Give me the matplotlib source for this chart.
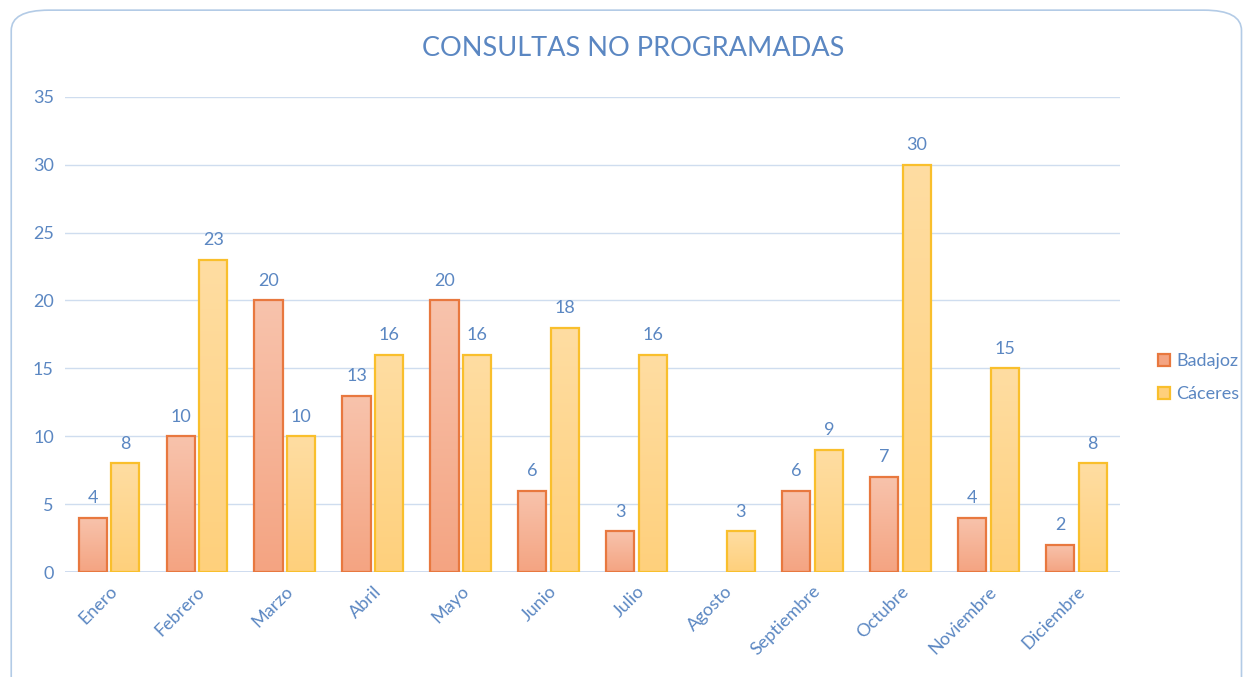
import numpy as np
import matplotlib.pyplot as plt
from matplotlib.patches import FancyBboxPatch
from matplotlib.colors import LinearSegmentedColormap

months = ["Enero", "Febrero", "Marzo", "Abril", "Mayo", "Junio", "Julio",
          "Agosto", "Septiembre", "Octubre", "Noviembre", "Diciembre"]
badajoz = [4, 10, 20, 13, 20, 6, 3, 0, 6, 7, 4, 2]
caceres = [8, 23, 10, 16, 16, 18, 16, 3, 9, 30, 15, 8]
yticks = [0, 5, 10, 15, 20, 25, 30, 35]

txt = "#5B87C2"
plt.rcParams["font.family"] = ["Lato", "DejaVu Sans"]

fig = plt.figure(figsize=(12.49, 6.77), dpi=100)
ax = fig.add_axes([0.052, 0.155, 0.845, 0.702])

# rounded chart border
fig.patches.append(FancyBboxPatch((0.009, -0.05), 0.985, 1.035,
                                  boxstyle="round,pad=0,rounding_size=0.03",
                                  transform=fig.transFigure, fill=False,
                                  edgecolor="#B3CBE6", linewidth=1.2))

x = np.arange(len(months))
w = 0.32
off = 0.185


def gradient_bars(xs, vals, top, bottom, edge, label):
    vals = [v if v else np.nan for v in vals]
    bars = ax.bar(xs, vals, w, facecolor="none", edgecolor=edge,
                  linewidth=1.6, label=label, zorder=3)
    cmap = LinearSegmentedColormap.from_list("g", [bottom, top])
    grad = np.linspace(0, 1, 100).reshape(-1, 1)
    for b, v in zip(bars, vals):
        if np.isnan(v):
            continue
        x0 = b.get_x()
        im = ax.imshow(grad, extent=[x0, x0 + w, 0, v], origin="lower",
                       aspect="auto", cmap=cmap, zorder=2)
        im.set_clip_path(b)
        ax.text(x0 + w / 2, v + 0.85, f"{int(v)}", ha="center", va="bottom",
                color=txt, fontsize=13)
    return bars


b1 = gradient_bars(x - off, badajoz, "#F8C3AC", "#F4A482", "#E8783F", "Badajoz")
b2 = gradient_bars(x + off, caceres, "#FEDDA2", "#FFD07C", "#F9BF2C", "Cáceres")

ax.set_xlim(-0.5, len(months) - 0.5)
ax.set_ylim(0, 35)
ax.set_yticks(yticks)
ax.set_xticks(x)
ax.set_xticklabels(months, rotation=45, ha="right", rotation_mode="anchor",
                   color=txt, fontsize=13)
ax.tick_params(axis="y", colors=txt, labelsize=13, length=0, pad=8)
ax.tick_params(axis="x", length=0, pad=8)
ax.grid(axis="y", color="#CFDDEF", linewidth=1, zorder=0)
for s in ax.spines.values():
    s.set_visible(False)
ax.axhline(0, color="#C6D6EC", linewidth=1.2, zorder=1)

fig.text(0.507, 0.928, "CONSULTAS NO PROGRAMADAS", ha="center", va="center",
         color=txt, fontsize=19.5)

leg = fig.legend(handles=[b1, b2], loc="center left",
                 bbox_to_anchor=(0.914, 0.442), frameon=False,
                 fontsize=13, handlelength=0.7, handleheight=0.7,
                 handletextpad=0.3, labelspacing=0.95)
for t in leg.get_texts():
    t.set_color(txt)
for h, fc in zip(leg.legend_handles, ["#F4A482", "#FFD07C"]):
    h.set_facecolor(fc)

fig.savefig("out.png", dpi=100)
